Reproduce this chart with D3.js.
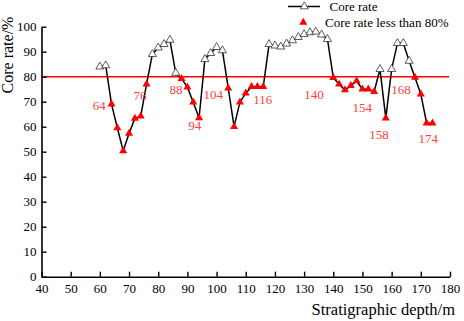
<!DOCTYPE html>
<html><head><meta charset="utf-8">
<script src="https://cdn.jsdelivr.net/npm/d3@7"></script>
<style>
html,body{margin:0;padding:0;background:#fff;}
svg{display:block;font-family:"Liberation Serif","Times New Roman",serif;}
</style></head>
<body>
<svg id="c" width="464" height="321"></svg>
<script>
const depths = [60,62,64,66,68,70,72,74,76,78,80,82,84,86,88,90,92,94,96,98,100,102,104,106,108,110,112,114,116,118,120,122,124,126,128,130,132,134,136,138,140,142,144,146,148,150,152,154,156,158,160,162,164,166,168,170,172,174];
const coreRate = [84,84.5,69,59.5,50.3,57.3,63.3,64.2,77,89,91.6,93,94.7,81.5,79.2,75.8,69.8,63.5,87,89.4,91.8,90.5,75.4,60,69.8,73.4,76,76,76,93,92.4,92,93.2,94.5,95.8,97,97.7,98,96.8,95,79.6,77,74.7,76.4,78.3,75,75,74,83,63.4,83,93.4,93.4,86.3,79.7,73,61.4,61.4];
const threshold = 80;
const labelDepths = [64,76,88,94,104,116,140,154,158,168,174];
const xTicks = [40,50,60,70,80,90,100,110,120,130,140,150,160,170,180];
const yTicks = [0,10,20,30,40,50,60,70,80,90,100];
const legendLabels = ["Core rate","Core rate less than 80%"];

// label placement offsets (pixels from the marker)
const labelDx = [-12.2,-6.5,-5.5,-4.4,-15,-0.5,-19.3,-11.9,-6.9,-14.1,-4.2];
const labelDy = [2.5,13.1,12,8.8,7.5,14.3,18,17.6,17.5,13.6,16.8];

const svg = d3.select("#c");
const x = d3.scaleLinear().domain([40,180]).range([41.5,450]);
const y = d3.scaleLinear().domain([0,100]).range([276.7,26.7]);
const data = depths.map((d,i)=>({d, v: coreRate[i]}));

// threshold line
svg.append("line").attr("x1",x(40)).attr("x2",x(180)-1).attr("y1",y(threshold)).attr("y2",y(threshold))
  .attr("stroke","#ff0000").attr("stroke-width",1.6);

// axes
const xAxis = d3.axisBottom(x).tickValues(xTicks).tickSizeInner(-5).tickSizeOuter(0).tickPadding(7);
const gx = svg.append("g").attr("transform",`translate(0,${y(0)})`).call(xAxis);
const yAxis = d3.axisLeft(y).tickValues(yTicks).tickSizeInner(-5).tickSizeOuter(0).tickPadding(5);
const gy = svg.append("g").attr("transform",`translate(${x(40)},0)`).call(yAxis);
[gx,gy].forEach(g=>{
  g.select(".domain").attr("stroke","#000").attr("stroke-width",1.6);
  g.selectAll(".tick line").attr("stroke","#000").attr("stroke-width",1.4);
  g.selectAll(".tick text").attr("font-family","Liberation Serif").attr("font-size",13).attr("fill","#000");
});

// line
svg.append("path").datum(data)
  .attr("d", d3.line().x(p=>x(p.d)).y(p=>y(p.v)))
  .attr("fill","none").attr("stroke","#000").attr("stroke-width",1.5);

const tri = d3.symbol().type(d3.symbolTriangle).size(28);
// open markers
svg.append("g").selectAll("path").data(data.filter(p=>p.v>=threshold)).join("path")
  .attr("d",tri).attr("transform",p=>`translate(${x(p.d)},${y(p.v)})`)
  .attr("fill","#fff").attr("stroke","#333").attr("stroke-width",0.8);
// red markers
svg.append("g").selectAll("path").data(data.filter(p=>p.v<threshold)).join("path")
  .attr("d",tri).attr("transform",p=>`translate(${x(p.d)},${y(p.v)})`)
  .attr("fill","#ff0000");

// red labels
svg.append("g").selectAll("text").data(labelDepths).join("text")
  .attr("x",(d,i)=>x(d)+labelDx[i])
  .attr("y",(d,i)=>y(coreRate[depths.indexOf(d)])+labelDy[i])
  .attr("text-anchor","middle").attr("dominant-baseline","middle")
  .attr("font-size",13).attr("fill","#ff4040").text(d=>d);

// axis titles
svg.append("text").attr("x",455).attr("y",311.5).attr("text-anchor","end").attr("dominant-baseline","middle")
  .attr("font-size",16.5).attr("fill","#000").text("Stratigraphic depth/m");
svg.append("text").attr("transform","translate(9.5,55) rotate(-90)").attr("text-anchor","middle")
  .attr("dominant-baseline","middle").attr("font-size",16).attr("fill","#000").text("Core rate/%");

// legend
const lg = svg.append("g");
lg.append("line").attr("x1",288).attr("x2",320).attr("y1",6.5).attr("y2",6.5).attr("stroke","#000").attr("stroke-width",1.5);
lg.append("path").attr("d",tri).attr("transform","translate(304.3,6.5)").attr("fill","#fff").attr("stroke","#333").attr("stroke-width",0.8);
lg.append("path").attr("d",tri).attr("transform","translate(303.3,22.5)").attr("fill","#ff0000");
lg.append("text").attr("x",329.5).attr("y",10.5).attr("font-size",13).attr("fill","#000").text(legendLabels[0]);
lg.append("text").attr("x",325).attr("y",27).attr("font-size",13).attr("fill","#000").text(legendLabels[1]);
</script>
</body></html>
